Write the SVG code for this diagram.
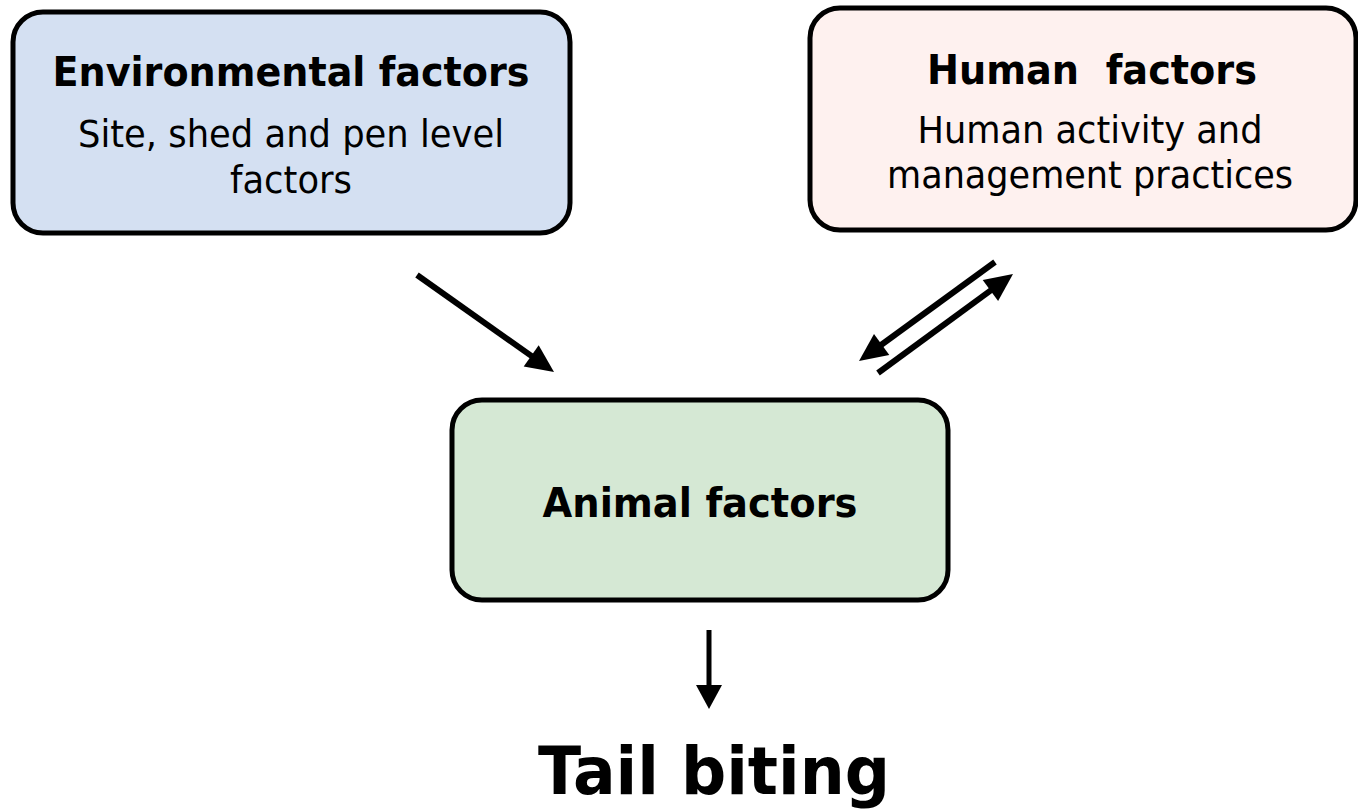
<svg xmlns="http://www.w3.org/2000/svg" width="1358" height="811" viewBox="0 0 1358 811">
<style>
.box{stroke:#000;stroke-width:5}
.h{font-family:"DejaVu Sans",Verdana,sans-serif;font-weight:bold;font-size:40px;fill:#000;text-anchor:middle;white-space:pre}
.s{font-family:"DejaVu Sans",Verdana,sans-serif;font-size:37px;fill:#000;text-anchor:middle}
.t{font-family:"DejaVu Sans",Verdana,sans-serif;font-weight:bold;font-size:66px;fill:#000;text-anchor:middle}
.c{stroke:#000;stroke-width:6;fill:none}
.hd{fill:#000;stroke:none}
</style>
<rect width="1358" height="811" fill="#fff"/>
<g id="env">
<rect class="box" x="13" y="12" width="557" height="221" rx="30" fill="#d4e0f2"/>
<text class="h" x="291" y="86" textLength="477" lengthAdjust="spacingAndGlyphs">Environmental factors</text>
<text class="s" x="291" y="147" textLength="426" lengthAdjust="spacingAndGlyphs">Site, shed and pen level</text>
<text class="s" x="291" y="193" textLength="122" lengthAdjust="spacingAndGlyphs">factors</text>
</g>
<g id="human">
<rect class="box" x="810" y="8" width="546" height="222" rx="30" fill="#fef1ef"/>
<text class="h" x="1092" y="84" xml:space="preserve" textLength="330" lengthAdjust="spacingAndGlyphs">Human  factors</text>
<text class="s" x="1090" y="143" textLength="345" lengthAdjust="spacingAndGlyphs">Human activity and</text>
<text class="s" x="1090" y="188" textLength="406" lengthAdjust="spacingAndGlyphs">management practices</text>
</g>
<g id="animal">
<rect class="box" x="452" y="400" width="496" height="200" rx="30" fill="#d5e8d4"/>
<text class="h" x="700" y="517" textLength="315" lengthAdjust="spacingAndGlyphs">Animal factors</text>
</g>
<g id="tail">
<text class="t" x="714" y="794" textLength="352" lengthAdjust="spacingAndGlyphs">Tail biting</text>
</g>
<g id="connectors">
<line class="c" x1="417" y1="275" x2="537.7" y2="360.4"/>
<polygon class="hd" points="554,372 523.7,366.4 538.7,345.2"/>
<line class="c" x1="995" y1="262" x2="875.2" y2="349.2"/>
<polygon class="hd" points="859,361 874,334 889.3,355"/>
<line class="c" x1="878" y1="373" x2="996.9" y2="285.8"/>
<polygon class="hd" points="1013,274 998.1,301.1 982.7,280.1"/>
<line class="c" style="stroke-width:5" x1="709" y1="630" x2="709" y2="692"/>
<polygon class="hd" points="709,709 696,685 722,685"/>
</g>
</svg>
